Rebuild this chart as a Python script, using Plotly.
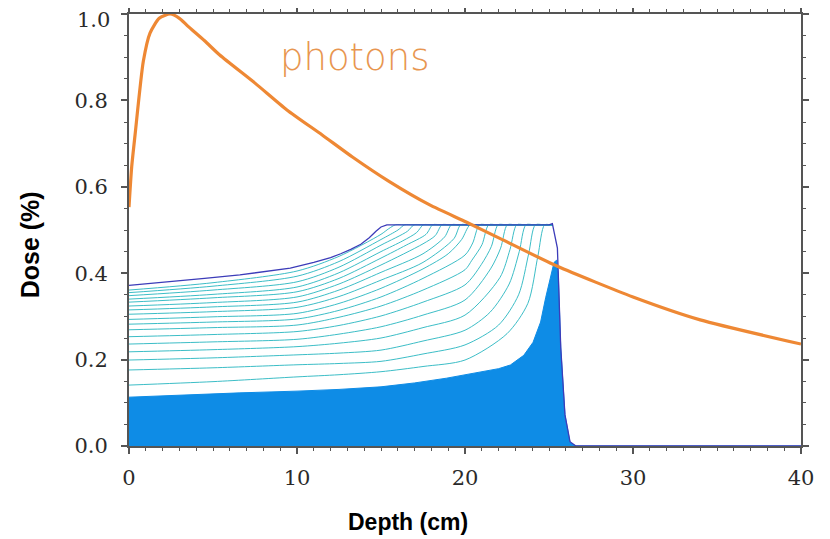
import plotly.graph_objects as go

# ---------------- data ----------------
photon_depth = [0, 0.16, 0.36, 0.85, 1.25, 1.8, 2.45, 3.0, 3.5, 4.5, 5.4, 7.5, 9.4, 11.5, 13.3, 15.5, 17.9, 20.1, 22.1, 25.5, 30, 34, 40]
photon_dose = [0.553, 0.646, 0.72, 0.89, 0.956, 0.99, 1.0, 0.99, 0.972, 0.938, 0.905, 0.84, 0.778, 0.72, 0.669, 0.612, 0.558, 0.518, 0.48, 0.416, 0.345, 0.292, 0.236]

sobp_depth = [0, 1.5, 3, 4.5, 6.6, 8, 9.6, 11, 12, 12.6, 13.2, 13.8, 14.3, 14.7, 15.0, 15.35, 20, 25.0, 25.2, 25.5, 25.7, 25.95, 26.25, 26.6, 40]
sobp_dose = [0.372, 0.377, 0.382, 0.388, 0.396, 0.403, 0.412, 0.425, 0.436, 0.445, 0.455, 0.467, 0.482, 0.497, 0.507, 0.512, 0.512, 0.512, 0.515, 0.458, 0.227, 0.072, 0.01, 0.0, 0.0]

bragg_depth = [0, 3, 6.6, 10, 12.5, 15, 17, 18.9, 20.9, 22.0, 22.7, 23.5, 24.05, 24.5, 24.8, 25.1, 25.3, 25.45, 25.55, 25.7, 25.95, 26.25, 26.6, 40]
bragg_dose = [0.113, 0.118, 0.123, 0.127, 0.131, 0.137, 0.146, 0.157, 0.171, 0.179, 0.1875, 0.21, 0.24, 0.287, 0.343, 0.396, 0.425, 0.43, 0.40, 0.227, 0.072, 0.008, 0.0, 0.0]

partial_depths = [
    [0, 5, 10, 12.5, 15, 15.46, 15.86, 16.36, 25.2],
    [0, 5, 10, 12.5, 15, 16.01, 16.41, 16.91, 25.2],
    [0, 5, 10, 12.5, 15, 16.57, 16.97, 17.47, 25.2],
    [0, 5, 10, 12.5, 15, 16.3, 17.12, 17.52, 18.02, 25.2],
    [0, 5, 10, 12.5, 15, 16.5, 17.68, 18.08, 18.58, 25.2],
    [0, 5, 10, 12.5, 15, 17.5, 18.23, 18.63, 19.13, 25.2],
    [0, 5, 10, 12.5, 15, 17.5, 18.79, 19.19, 19.69, 25.2],
    [0, 5, 10, 12.5, 15, 17.5, 19.34, 19.74, 20.24, 25.2],
    [0, 5, 10, 12.5, 15, 17.5, 19.0, 19.8, 20.3, 20.8, 25.2],
    [0, 5, 10, 12.5, 15, 17.5, 20, 20.46, 20.86, 21.36, 25.2],
    [0, 5, 10, 12.5, 15, 17.5, 20, 20.41, 21.01, 21.41, 21.91, 25.2],
    [0, 5, 10, 12.5, 15, 17.5, 20, 20.97, 21.57, 21.97, 22.47, 25.2],
    [0, 5, 10, 12.5, 15, 17.5, 20, 21.52, 22.12, 22.52, 23.02, 25.2],
    [0, 5, 10, 12.5, 15, 17.5, 20, 22.08, 22.68, 23.08, 23.58, 25.2],
    [0, 5, 10, 12.5, 15, 17.5, 20, 21.5, 22.63, 23.23, 23.63, 24.13, 25.2],
    [0, 5, 10, 12.5, 15, 17.5, 20, 22, 23.19, 23.79, 24.19, 24.69, 25.2],
    [0, 5, 10, 12.5, 15, 17.5, 20, 22.5, 23.74, 24.34, 24.74, 25.1, 25.2],
]
partial_doses = [
    [0.361, 0.378, 0.405, 0.439, 0.490, 0.503, 0.512, 0.512, 0.512],
    [0.355, 0.370, 0.393, 0.427, 0.478, 0.500, 0.512, 0.512, 0.512],
    [0.348, 0.361, 0.380, 0.414, 0.465, 0.497, 0.512, 0.512, 0.512],
    [0.340, 0.351, 0.368, 0.401, 0.450, 0.475, 0.494, 0.512, 0.512, 0.512],
    [0.333, 0.343, 0.357, 0.388, 0.435, 0.465, 0.490, 0.512, 0.512, 0.512],
    [0.324, 0.332, 0.345, 0.375, 0.419, 0.468, 0.487, 0.512, 0.512, 0.512],
    [0.315, 0.322, 0.333, 0.361, 0.402, 0.445, 0.484, 0.512, 0.512, 0.512],
    [0.305, 0.311, 0.321, 0.346, 0.384, 0.425, 0.480, 0.512, 0.512, 0.512],
    [0.293, 0.299, 0.307, 0.330, 0.365, 0.410, 0.445, 0.478, 0.512, 0.512, 0.512],
    [0.282, 0.287, 0.294, 0.314, 0.345, 0.388, 0.442, 0.470, 0.512, 0.512, 0.512],
    [0.269, 0.274, 0.280, 0.298, 0.324, 0.361, 0.408, 0.430, 0.466, 0.512, 0.512, 0.512],
    [0.253, 0.258, 0.265, 0.279, 0.301, 0.333, 0.373, 0.420, 0.462, 0.512, 0.512, 0.512],
    [0.236, 0.241, 0.247, 0.259, 0.276, 0.303, 0.338, 0.410, 0.458, 0.512, 0.512, 0.512],
    [0.218, 0.223, 0.230, 0.238, 0.250, 0.274, 0.303, 0.390, 0.455, 0.512, 0.512, 0.512],
    [0.199, 0.204, 0.211, 0.215, 0.222, 0.243, 0.268, 0.310, 0.375, 0.450, 0.512, 0.512, 0.512],
    [0.176, 0.181, 0.188, 0.191, 0.196, 0.213, 0.234, 0.280, 0.350, 0.445, 0.512, 0.512, 0.512],
    [0.141, 0.149, 0.160, 0.165, 0.172, 0.184, 0.199, 0.260, 0.330, 0.440, 0.512, 0.512, 0.512],
]

x_tick_vals = [0, 10, 20, 30, 40]
y_tick_vals = [0.0, 0.2, 0.4, 0.6, 0.8, 1.0]
y_tick_text = ["0.0", "0.2", "0.4", "0.6", "0.8", ""]
top_label = "1.0"

# ---------------- figure ----------------
fig = go.Figure()

# pristine Bragg peak (filled)
fig.add_trace(go.Scatter(
    x=bragg_depth, y=bragg_dose, mode="lines", fill="tozeroy",
    line=dict(color="rgb(14,140,230)", width=1),
    fillcolor="rgb(14,140,230)", hoverinfo="skip", showlegend=False))

# partial sums
for xs, ys in zip(partial_depths, partial_doses):
    fig.add_trace(go.Scatter(
        x=xs, y=ys, mode="lines",
        line=dict(color="rgba(50,185,195,0.95)", width=1, shape="spline", smoothing=0.8),
        hoverinfo="skip", showlegend=False))

# SOBP envelope
fig.add_trace(go.Scatter(
    x=sobp_depth, y=sobp_dose, mode="lines",
    line=dict(color="rgb(60,60,185)", width=1.3),
    hoverinfo="skip", showlegend=False))

# photons
fig.add_trace(go.Scatter(
    x=photon_depth, y=photon_dose, mode="lines",
    line=dict(color="rgb(238,136,52)", width=3.2, shape="spline", smoothing=0.6),
    hoverinfo="skip", showlegend=False))

tick_font = dict(family="DejaVu Serif", size=21, color="#2a2a2a")
axis_common = dict(
    showline=True, linecolor="#555555", linewidth=2, mirror="allticks",
    ticks="outside", ticklen=6, tickwidth=1.5, tickcolor="#555555",
    showgrid=False, zeroline=False, automargin=False, ticklabeloverflow="allow",
    tickfont=tick_font,
)

fig.update_xaxes(range=[0, 40], tickvals=x_tick_vals, ticklabelstandoff=6,
                 minor=dict(ticks="outside", ticklen=3, dtick=1, tickcolor="#555555", tickwidth=1),
                 **axis_common)
fig.update_yaxes(range=[0, 1.0], tickvals=y_tick_vals, ticktext=y_tick_text, ticklabelstandoff=9,
                 minor=dict(ticks="outside", ticklen=3, dtick=0.05, tickcolor="#555555", tickwidth=1),
                 **axis_common)

# top tick label, nudged down like in the original so it stays inside the page
fig.add_annotation(text=top_label, x=-0.0253, y=0.986, xref="paper", yref="y", showarrow=False,
                   xanchor="right", yanchor="middle", font=tick_font)

fig.add_annotation(text="photons", x=13.45, y=0.90, xref="x", yref="y", showarrow=False,
                   font=dict(family="DejaVu Sans", size=37, color="rgb(232,150,80)", weight=300))
fig.add_annotation(text="<b>Depth (cm)</b>", x=0.415, y=-0.176, xref="paper", yref="paper",
                   showarrow=False, xanchor="center", yanchor="middle",
                   font=dict(family="Liberation Sans", size=23, color="#000000"))
fig.add_annotation(text="<b>Dose (%)</b>", x=-0.147, y=0.465, xref="paper", yref="paper",
                   showarrow=False, textangle=-90, xanchor="center", yanchor="middle",
                   font=dict(family="Liberation Sans", size=25, color="#000000"))

fig.update_layout(
    width=830, height=539,
    margin=dict(l=121, r=37, t=6, b=101),
    paper_bgcolor="white", plot_bgcolor="white",
    showlegend=False,
)

fig.write_html("out.html")
